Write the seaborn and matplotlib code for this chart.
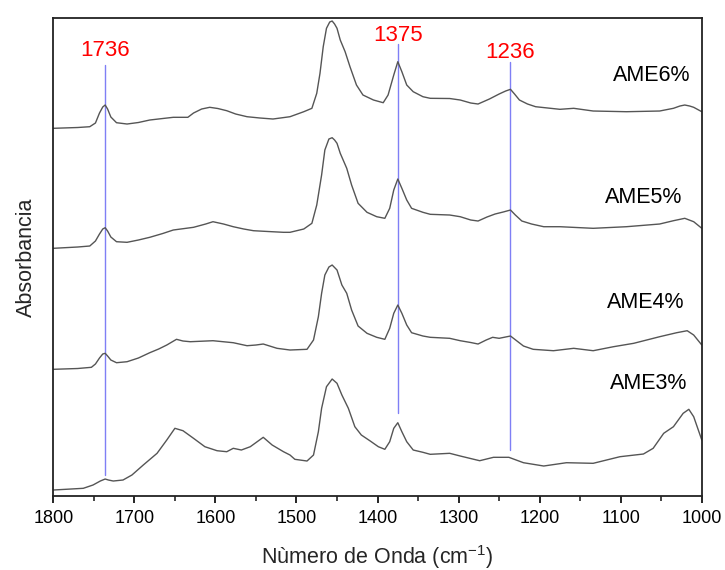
import numpy as np
import pandas as pd
import matplotlib
matplotlib.use("Agg")
import matplotlib.pyplot as plt
import seaborn as sns

# FTIR spectra (wavenumber in cm-1, absorbance in arbitrary units, before stacking)
wn_ame3 = [1800, 1763, 1751, 1742, 1736, 1732, 1726, 1714, 1703, 1689, 1672, 1660,
           1650, 1640, 1627, 1613, 1598, 1586, 1578, 1568, 1557, 1541, 1530, 1516,
           1508, 1502, 1487, 1479, 1473, 1469, 1463, 1456, 1450, 1444, 1436, 1428,
           1420, 1409, 1399, 1391, 1385, 1380, 1375, 1370, 1364, 1356, 1344, 1335,
           1311, 1298, 1274, 1257, 1238, 1220, 1195, 1167, 1134, 1101, 1072, 1060,
           1047, 1035, 1023, 1016, 1010, 1000]
abs_ame3 = [0.06, 0.077, 0.11, 0.15, 0.17, 0.16, 0.15, 0.16, 0.21, 0.31, 0.427, 0.56,
            0.677, 0.653, 0.577, 0.493, 0.453, 0.443, 0.477, 0.46, 0.493, 0.587, 0.51, 0.443,
            0.41, 0.367, 0.35, 0.41, 0.643, 0.877, 1.093, 1.17, 1.127, 1.01, 0.877, 0.693,
            0.61, 0.55, 0.493, 0.467, 0.543, 0.677, 0.733, 0.643, 0.543, 0.46, 0.437, 0.417,
            0.427, 0.40, 0.353, 0.387, 0.387, 0.333, 0.30, 0.333, 0.327, 0.393, 0.42, 0.477,
            0.627, 0.693, 0.827, 0.867, 0.793, 0.56]

wn_ame4 = [1800, 1770, 1753, 1748, 1743, 1739, 1736, 1733, 1729, 1722, 1709, 1695,
           1681, 1670, 1660, 1648, 1640, 1631, 1603, 1578, 1561, 1550, 1541, 1524,
           1508, 1487, 1479, 1473, 1469, 1465, 1460, 1456, 1450, 1444, 1438, 1432,
           1424, 1413, 1401, 1391, 1385, 1380, 1375, 1370, 1364, 1358, 1344, 1335,
           1311, 1298, 1285, 1276, 1266, 1258, 1250, 1236, 1228, 1220, 1208, 1183,
           1158, 1134, 1109, 1084, 1052, 1031, 1018, 1010, 1000]
abs_ame4 = [0.067, 0.075, 0.087, 0.12, 0.18, 0.22, 0.227, 0.20, 0.16, 0.133, 0.143, 0.18,
            0.233, 0.27, 0.31, 0.367, 0.35, 0.343, 0.353, 0.333, 0.303, 0.31, 0.32, 0.277,
            0.26, 0.267, 0.36, 0.593, 0.827, 1.01, 1.09, 1.11, 1.06, 0.91, 0.827, 0.66,
            0.50, 0.427, 0.387, 0.367, 0.477, 0.627, 0.71, 0.627, 0.51, 0.433, 0.40, 0.387,
            0.377, 0.353, 0.335, 0.32, 0.36, 0.387, 0.377, 0.40, 0.35, 0.30, 0.267, 0.253,
            0.277, 0.253, 0.293, 0.327, 0.393, 0.433, 0.453, 0.41, 0.31]

wn_ame5 = [1800, 1770, 1755, 1748, 1743, 1739, 1736, 1733, 1729, 1722, 1709, 1695,
           1681, 1665, 1652, 1627, 1612, 1603, 1590, 1578, 1565, 1553, 1535, 1516,
           1508, 1491, 1481, 1475, 1469, 1465, 1460, 1456, 1453, 1450, 1446, 1438,
           1432, 1424, 1413, 1401, 1391, 1385, 1380, 1375, 1370, 1364, 1358, 1344,
           1335, 1311, 1298, 1285, 1276, 1265, 1255, 1245, 1236, 1230, 1222, 1210,
           1195, 1175, 1134, 1093, 1052, 1035, 1021, 1010, 1000]
abs_ame5 = [0.077, 0.09, 0.10, 0.15, 0.22, 0.27, 0.283, 0.25, 0.19, 0.143, 0.137, 0.16,
            0.187, 0.225, 0.26, 0.287, 0.32, 0.343, 0.32, 0.293, 0.27, 0.253, 0.245, 0.237,
            0.237, 0.27, 0.327, 0.51, 0.81, 1.06, 1.17, 1.183, 1.16, 1.127, 1.027, 0.877,
            0.71, 0.527, 0.437, 0.393, 0.377, 0.477, 0.66, 0.77, 0.677, 0.56, 0.477, 0.437,
            0.417, 0.41, 0.393, 0.36, 0.35, 0.39, 0.42, 0.44, 0.46, 0.41, 0.35, 0.32,
            0.293, 0.293, 0.277, 0.293, 0.32, 0.353, 0.377, 0.343, 0.277]

wn_ame6 = [1800, 1770, 1755, 1748, 1743, 1739, 1736, 1733, 1729, 1722, 1709, 1695,
           1681, 1665, 1652, 1634, 1627, 1617, 1607, 1597, 1586, 1575, 1561, 1545,
           1529, 1508, 1491, 1481, 1475, 1471, 1467, 1463, 1459, 1456, 1453, 1450,
           1446, 1440, 1434, 1426, 1418, 1405, 1393, 1387, 1380, 1375, 1370, 1364,
           1356, 1344, 1335, 1311, 1298, 1285, 1276, 1262, 1250, 1242, 1236, 1231,
           1225, 1215, 1205, 1175, 1158, 1134, 1093, 1052, 1035, 1027, 1021, 1015,
           1010, 1000]
abs_ame6 = [0.077, 0.085, 0.093, 0.13, 0.23, 0.29, 0.31, 0.27, 0.19, 0.133, 0.12, 0.135,
            0.16, 0.175, 0.187, 0.187, 0.23, 0.27, 0.287, 0.275, 0.253, 0.22, 0.193, 0.18,
            0.17, 0.193, 0.243, 0.277, 0.427, 0.627, 0.893, 1.077, 1.14, 1.15, 1.12, 1.077,
            0.96, 0.843, 0.693, 0.51, 0.41, 0.36, 0.333, 0.41, 0.61, 0.743, 0.643, 0.51,
            0.443, 0.393, 0.377, 0.375, 0.36, 0.33, 0.32, 0.37, 0.42, 0.45, 0.467, 0.42,
            0.36, 0.32, 0.293, 0.267, 0.277, 0.25, 0.243, 0.25, 0.277, 0.30, 0.31, 0.30,
            0.287, 0.243]

samples = ["AME3%", "AME4%", "AME5%", "AME6%"]
offsets = [0.0, 1.2, 2.4, 3.6]
label_pos = [(1018, 1.13), (1021, 1.94), (1024, 2.99), (1014, 4.21)]

# Marked bands and the vertical extent of each guide line
bands = [1736, 1375, 1236]
band_spans = [(0.21, 4.31), (0.83, 4.52), (0.46, 4.34)]
band_label_y = [4.46, 4.61, 4.44]

spectra = {
    "AME3%": (wn_ame3, abs_ame3),
    "AME4%": (wn_ame4, abs_ame4),
    "AME5%": (wn_ame5, abs_ame5),
    "AME6%": (wn_ame6, abs_ame6),
}

rows = []
for name, off in zip(samples, offsets):
    wn, ab = spectra[name]
    for w, a in zip(wn, ab):
        rows.append({"muestra": name, "wn": w, "y": a + off})
df = pd.DataFrame(rows)

sns.set_style("ticks")
plt.rcParams["font.family"] = ["Liberation Sans", "DejaVu Sans"]
plt.rcParams["mathtext.default"] = "regular"

fig = plt.figure(figsize=(7.25, 5.7), dpi=100)
ax = fig.add_axes([0.0735, 0.1298, 0.8945, 0.8386])

sns.lineplot(data=df, x="wn", y="y", hue="muestra", units="muestra",
             estimator=None, sort=False, legend=False,
             palette={s: "#555555" for s in samples}, linewidth=1.0, ax=ax)
for line in ax.get_lines():
    line.set_solid_joinstyle("round")

for b, (y0, y1), ly in zip(bands, band_spans, band_label_y):
    ax.plot([b, b], [y0, y1], color="#7f7ff5", linewidth=1.0, zorder=1)
    ax.text(b, ly, str(b), color="#ff0000", fontsize=16, ha="center", va="center")

for name, (lx, ly) in zip(samples, label_pos):
    ax.text(lx, ly, name, color="black", fontsize=15.5, ha="right", va="center")

ax.set_xlim(1800, 1000)
ax.set_ylim(0, 4.78)
ax.set_xticks(np.arange(1800, 999, -100))
ax.set_xticks(np.arange(1750, 1000, -100), minor=True)
ax.set_yticks([])
ax.tick_params(axis="x", which="major", direction="out", length=5, width=1.2,
               labelsize=13, colors="black", pad=5)
ax.tick_params(axis="x", which="minor", direction="out", length=3.5, width=1.2)
for sp in ax.spines.values():
    sp.set_visible(True)
    sp.set_linewidth(1.3)
    sp.set_color("#222222")

ax.set_xlabel("Nùmero de Onda (cm$^{-1}$)", fontsize=15.5, labelpad=12)
ax.set_ylabel("Absorbancia", fontsize=15.5, labelpad=12)

fig.savefig("out.png", dpi=100)
